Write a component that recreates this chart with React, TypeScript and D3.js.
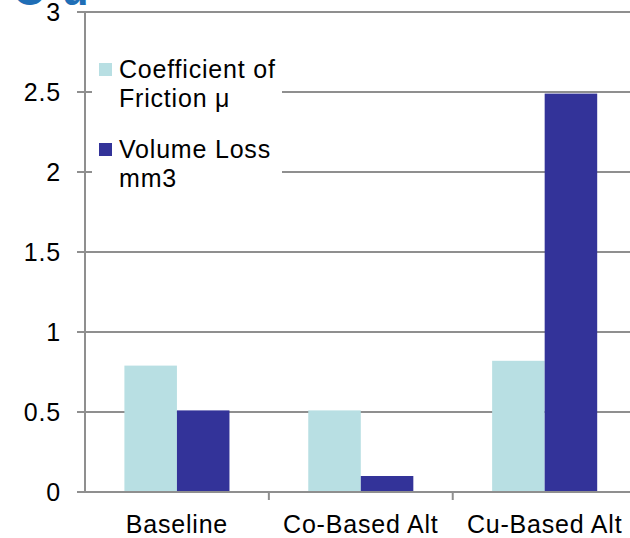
import React from "react";
import * as d3 from "d3";

// Wear test results per coating
const categories = ["Baseline", "Co-Based Alt", "Cu-Based Alt"];
const seriesNames = ["Coefficient of Friction μ", "Volume Loss mm3"];
const frictionValues = [0.79, 0.51, 0.82];
const volumeLossValues = [0.51, 0.1, 2.49];
const yTicks = [0, 0.5, 1, 1.5, 2, 2.5, 3];

const seriesColors = ["#b8dfe3", "#333399"];
const gridColor = "#8f8f8f";
const font = "'Liberation Sans', Arial, sans-serif";
const fontSize = 25;
const letterSpacing = 0.8;

const W = 630;
const H = 538;
const plotLeft = 85;
const plotRight = 636.6;
const plotTop = 12;
const plotBottom = 492;

export default function App() {
  const x = d3.scaleBand<string>().domain(categories).range([plotLeft, plotRight]).padding(0);
  const xSub = d3
    .scaleBand<string>()
    .domain(seriesNames)
    .range([0, x.bandwidth()])
    .paddingInner(0)
    .paddingOuter(0.75);
  const y = d3.scaleLinear().domain([0, 3]).range([plotBottom, plotTop]);

  const seriesValues = [frictionValues, volumeLossValues];
  const catTicks = categories.slice(1).map((c) => x(c) as number);

  return (
    <svg
      width={W}
      height={H}
      style={{ position: "absolute", left: 0, top: 0, background: "#fff" }}
      fontFamily={font}
    >
      {/* partly visible slide heading */}
      <text x={13} y={5} fontSize={44} fontWeight="bold" fill="#1f6eb6" letterSpacing={17}>
        Cu
      </text>

      {/* horizontal gridlines with ticks crossing the value axis */}
      {yTicks.map((t) => (
        <line
          key={"g" + t}
          x1={plotLeft - 8}
          x2={W}
          y1={y(t)}
          y2={y(t)}
          stroke={gridColor}
          strokeWidth={2}
        />
      ))}

      {/* bars */}
      {seriesNames.map((s, si) =>
        categories.map((c, ci) => {
          const v = seriesValues[si][ci];
          return (
            <rect
              key={s + c}
              x={(x(c) as number) + (xSub(s) as number)}
              y={y(v)}
              width={xSub.bandwidth()}
              height={y(0) - y(v)}
              fill={seriesColors[si]}
            />
          );
        })
      )}

      {/* legend */}
      <rect x={92} y={44} width={190} height={162} fill="#fff" />
      {seriesNames.map((s, i) => {
        const top = 63 + i * 80;
        const lines = i === 0 ? ["Coefficient of", "Friction μ"] : ["Volume Loss", "mm3"];
        return (
          <g key={"lg" + s}>
            <rect x={99} y={top} width={13} height={13} fill={seriesColors[i]} />
            <text x={119} y={top + 15} fontSize={fontSize} letterSpacing={letterSpacing} fill="#000">
              {lines.map((l, li) => (
                <tspan key={li} x={119} dy={li === 0 ? 0 : 29}>
                  {l}
                </tspan>
              ))}
            </text>
          </g>
        );
      })}

      {/* value axis */}
      <line x1={plotLeft} x2={plotLeft} y1={plotTop} y2={plotBottom} stroke={gridColor} strokeWidth={2} />
      {yTicks.map((t) => (
        <g key={"yt" + t}>
          <line x1={plotLeft - 8} x2={plotLeft + 5} y1={y(t)} y2={y(t)} stroke={gridColor} strokeWidth={2} />
          <text
            x={61}
            y={y(t) + 9}
            fontSize={fontSize}
            letterSpacing={letterSpacing}
            textAnchor="end"
            fill="#000"
          >
            {t}
          </text>
        </g>
      ))}

      {/* category axis */}
      <line x1={plotLeft} x2={W} y1={y(0)} y2={y(0)} stroke={gridColor} strokeWidth={2} />
      {catTicks.map((tx, i) => (
        <line key={"xt" + i} x1={tx} x2={tx} y1={y(0)} y2={y(0) + 8} stroke={gridColor} strokeWidth={2} />
      ))}
      {categories.map((c) => (
        <text
          key={"xl" + c}
          x={(x(c) as number) + x.bandwidth() / 2}
          y={533}
          fontSize={fontSize}
          letterSpacing={letterSpacing}
          textAnchor="middle"
          fill="#000"
        >
          {c}
        </text>
      ))}
    </svg>
  );
}
